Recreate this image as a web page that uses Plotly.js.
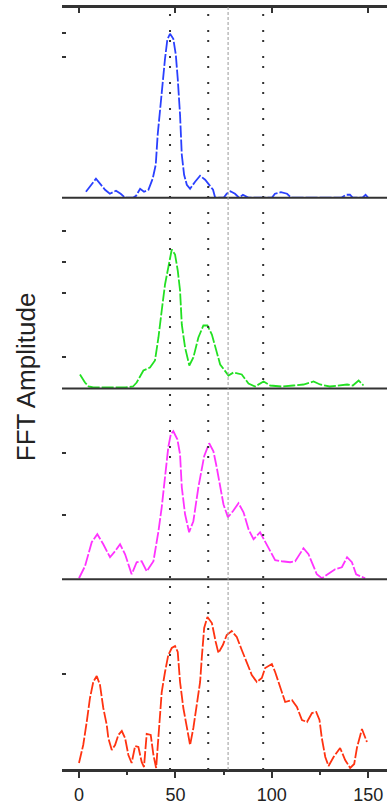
<!DOCTYPE html>
<html><head><meta charset="utf-8">
<script src="https://cdn.plot.ly/plotly-3.0.1.min.js"></script>
<style>html,body{margin:0;padding:0;background:#fff;}#chart{width:387px;height:802px;}</style>
</head><body><div id="chart"></div>
<script>
// Frequency axis tick labels
const freqTicks = [0, 50, 100, 150];
const freqTickText = ["0", "50", "100", "150"];
// Reference frequencies (dotted and dashed vertical markers)
const markerFreqs = [47.2, 67.0, 95.5];
const refFreq = 77.3;

// Panel 1 (blue)
const blueFreq = [3.6, 8.8, 13.5, 16.0, 19.2, 21.6, 24.0, 28.0, 29.6, 31.7, 33.7, 36.0, 38.2, 39.8, 40.8, 42.0, 43.4, 44.6, 45.8, 47.2, 48.9, 50.2, 51.2, 52.4, 53.3, 54.5, 55.9, 57.6, 60.2, 62.8, 65.4, 68.3, 69.5, 70.6, 75.0, 76.6, 78.5, 80.9, 83.0, 85.0, 88.0, 100.0, 101.6, 104.7, 107.9, 110.0, 136.0, 138.5, 140.5, 142.0, 147.0, 148.6, 150.0];
const blueAmp = [6, 19, 8, 4, 7, 4, 0, 0, 2, 9, 6, 8, 19, 33, 63, 89, 116, 139, 158, 164, 159, 143, 119, 83, 43, 23, 13, 9, 16, 22, 18, 11, 8, 0, 0, 4, 6.5, 4, 0, 3, 0, 0, 4, 5.5, 4, 0, 0, 3, 3, 0, 0, 3, 0];

// Panel 2 (green)
const greenFreq = [0.5, 3.1, 5.0, 7.4, 12.0, 18.0, 24.0, 28.0, 29.9, 33.4, 36.8, 39.4, 41.2, 42.9, 44.6, 46.3, 48.1, 49.8, 51.2, 52.4, 53.3, 55.0, 57.2, 59.3, 61.9, 64.5, 66.6, 68.9, 70.6, 73.2, 77.5, 80.1, 84.4, 87.9, 91.3, 95.7, 99.1, 105.0, 111.2, 116.4, 121.6, 125.0, 130.0, 133.7, 139.0, 142.0, 145.0, 147.5];
const greenAmp = [14, 6, 2, 1, 1, 1, 1, 2, 6, 18, 21, 28, 51, 78, 104, 121, 139, 134, 118, 98, 64, 41, 23, 31, 51, 63, 63, 54, 41, 24, 13, 16, 14, 5, 2, 7, 3, 2, 3, 4, 7, 4, 2, 3, 4, 3, 8, 3];

// Panel 3 (magenta)
const magentaFreq = [0.0, 3.1, 6.6, 9.5, 12.6, 16.1, 18.7, 21.3, 23.9, 27.3, 29.9, 32.5, 35.1, 38.6, 41.2, 42.9, 44.6, 46.3, 47.6, 48.9, 51.0, 52.4, 53.3, 55.0, 57.1, 59.3, 61.9, 63.7, 64.9, 67.5, 69.7, 71.4, 73.2, 74.9, 77.2, 79.8, 82.7, 85.3, 87.9, 90.5, 93.9, 96.5, 99.1, 101.7, 105.2, 109.5, 112.1, 116.4, 119.0, 120.8, 123.3, 125.9, 129.4, 132.8, 136.3, 139.0, 141.5, 143.7, 145.8, 148.4];
const magentaAmp = [1, 13, 37, 45, 35, 22, 28, 35, 25, 5, 17, 18, 8, 18, 48, 72, 102, 132, 145, 148, 140, 125, 92, 65, 47, 58, 92, 112, 123, 136, 128, 112, 92, 75, 62, 68, 76, 67, 50, 40, 47, 38, 28, 19, 18, 17, 18, 31, 25, 17, 5, 1, 6, 10, 12, 22, 17, 5, 3, 1];

// Panel 4 (red)
const redFreq = [0.0, 2.2, 4.0, 5.7, 7.4, 9.2, 10.9, 12.6, 14.4, 15.2, 17.0, 18.7, 20.4, 22.2, 23.9, 25.6, 27.3, 29.1, 30.8, 32.5, 33.7, 35.1, 37.2, 38.6, 40.0, 41.2, 42.9, 44.6, 46.3, 48.1, 49.8, 51.2, 52.4, 54.1, 55.9, 57.6, 59.3, 61.1, 62.8, 63.7, 64.9, 66.6, 68.9, 70.9, 72.3, 74.6, 76.6, 79.2, 81.8, 84.4, 87.0, 89.6, 92.2, 94.8, 96.5, 100.0, 101.7, 104.3, 106.9, 110.4, 113.0, 115.6, 118.2, 120.8, 123.0, 124.7, 125.9, 127.7, 129.4, 132.0, 135.4, 138.0, 140.6, 142.7, 144.1, 146.7, 149.3];
const redAmp = [7, 25, 48, 72, 88, 94, 85, 62, 45, 32, 20, 25, 35, 39, 32, 15, 7, 24, 23, 8, 3, 36, 35, 15, 2, 35, 78, 98, 115, 122, 124, 118, 88, 62, 42, 25, 42, 68, 88, 113, 142, 153, 147, 128, 117, 125, 135, 139, 133, 120, 107, 95, 88, 92, 102, 106, 98, 82, 68, 70, 63, 50, 48, 57, 58, 50, 32, 13, 4, 13, 22, 10, 2, 6, 22, 41, 28];

// y tick positions per panel (top to bottom)
const ticks1 = [141, 164.5];
const ticks2 = [32, 96, 127, 158];
const ticks3 = [64, 126];
const ticks4 = [96];

const lineDash = '12px,2px';
function tr(x, y, color, xa, ya) {
  return {x: x, y: y, type: 'scatter', mode: 'lines', xaxis: xa, yaxis: ya,
    line: {color: color, width: 1.8, dash: lineDash}, hoverinfo: 'skip', showlegend: false};
}
const data = [
  tr(redFreq, redAmp, '#ff3311', 'x', 'y'),
  tr(magentaFreq, magentaAmp, '#ff33ff', 'x', 'y2'),
  tr(greenFreq, greenAmp, '#22e022', 'x', 'y3'),
  tr(blueFreq, blueAmp, '#2a40ff', 'x2', 'y4')
];

const axisColor = '#333';
const yRange = [0, 190.75];
function yax(dom, tv) {
  return {domain: dom, range: yRange, fixedrange: true, showgrid: false, zeroline: false,
    showline: false, ticks: 'inside', ticklen: 4, tickwidth: 2, tickcolor: axisColor,
    tickmode: 'array', tickvals: tv, showticklabels: false};
}

const shapes = [];
[0, 0.25, 0.5, 0.75, 1].forEach(function (p) {
  shapes.push({type: 'line', xref: 'paper', yref: 'paper', x0: 0, x1: 1, y0: p, y1: p,
    line: {color: axisColor, width: 2}, layer: 'above'});
});
markerFreqs.forEach(function (f) {
  shapes.push({type: 'line', xref: 'x', yref: 'paper', x0: f, x1: f, y0: 0, y1: 1,
    line: {color: '#333', width: 2, dash: '2px,8px,2px,14px'}, layer: 'above'});
});
shapes.push({type: 'line', xref: 'x', yref: 'paper', x0: refFreq, x1: refFreq, y0: 0, y1: 1,
  line: {color: '#999', width: 1, dash: '3px,2px'}, layer: 'above'});

const layout = {
  width: 387, height: 802,
  margin: {l: 62, r: 0, t: 7, b: 32, pad: 0},
  paper_bgcolor: '#fff', plot_bgcolor: '#fff',
  font: {family: 'Liberation Sans, Arial, sans-serif', color: '#222'},
  showlegend: false,
  xaxis: {range: [-8.81, 159.7], anchor: 'y', fixedrange: true, showgrid: false, zeroline: false,
    showline: true, linecolor: axisColor, linewidth: 2,
    tickmode: 'array', tickvals: freqTicks, ticktext: freqTickText,
    ticks: 'outside', ticklen: 6, tickwidth: 2, tickcolor: axisColor,
    tickfont: {size: 18, color: '#222'}, ticklabelstandoff: 1,
    minor: {tickmode: 'linear', tick0: 0, dtick: 25, ticks: 'outside', ticklen: 3, tickwidth: 2, tickcolor: axisColor, showgrid: false}},
  xaxis2: {matches: 'x', range: [-8.81, 159.7], anchor: 'y4', side: 'top', fixedrange: true,
    showgrid: false, zeroline: false, showline: true, linecolor: axisColor, linewidth: 2,
    tickmode: 'array', tickvals: freqTicks, ticks: 'inside', ticklen: 6, tickwidth: 2,
    tickcolor: axisColor, showticklabels: false},
  yaxis: yax([0, 0.25], ticks4),
  yaxis2: yax([0.25, 0.5], ticks3),
  yaxis3: yax([0.5, 0.75], ticks2),
  yaxis4: yax([0.75, 1], ticks1),
  shapes: shapes,
  annotations: [{text: 'FFT Amplitude', xref: 'paper', yref: 'paper', x: -0.111, y: 0.516,
    xanchor: 'center', yanchor: 'middle', textangle: -90, showarrow: false,
    font: {size: 26, color: '#222', family: 'Liberation Sans, Arial, sans-serif'}}]
};

Plotly.newPlot('chart', data, layout, {staticPlot: true, displayModeBar: false});
</script>
</body></html>
